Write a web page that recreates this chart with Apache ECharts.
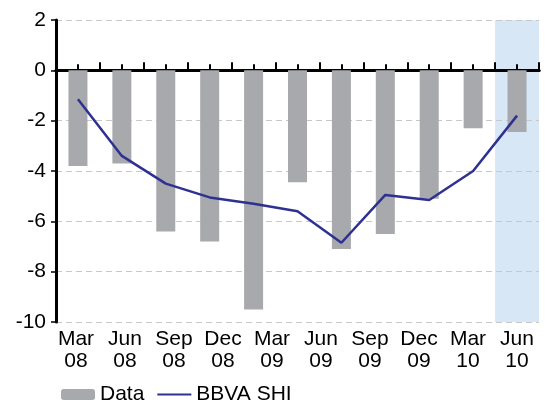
<!DOCTYPE html>
<html>
<head>
<meta charset="utf-8">
<script src="https://cdn.jsdelivr.net/npm/echarts@6/dist/echarts.min.js"></script>
<style>
  html, body { margin: 0; padding: 0; background: #fff; }
  #chart { width: 548px; height: 403px; }
</style>
</head>
<body>
<div id="chart"></div>
<script>
// quarterly periods (one bar / point each)
var periods = ['Dec 07', 'Mar 08', 'Jun 08', 'Sep 08', 'Dec 08', 'Mar 09', 'Jun 09', 'Sep 09', 'Dec 09', 'Mar 10', 'Jun 10']
// labels printed under the axis
var tickLabels = ['Mar\n08', 'Jun\n08', 'Sep\n08', 'Dec\n08', 'Mar\n09', 'Jun\n09', 'Sep\n09', 'Dec\n09', 'Mar\n10', 'Jun\n10']
var dataValues = [-3.8, -3.7, -6.4, -6.8, -9.5, -4.45, -7.1, -6.5, -5.1, -2.3, -2.45]
var shiValues = [-1.15, -3.4, -4.5, -5.05, -5.3, -5.6, -6.85, -4.95, -5.15, -4.0, -1.8]
// shaded forecast column (top and bottom of the band)
var shadeTop = [null, null, null, null, null, null, null, null, null, null, 2]
var shadeBottom = [null, null, null, null, null, null, null, null, null, null, -10]

var font = 'Liberation Sans, Arial, sans-serif'
var chart = echarts.init(document.getElementById('chart'))

var hiddenY = function (gi) {
  return {
    type: 'value', gridIndex: gi, min: -10, max: 2, interval: 2,
    axisLine: { show: false }, axisTick: { show: false },
    axisLabel: { show: false }, splitLine: { show: false }
  }
}

chart.setOption({
  animation: false,
  textStyle: { fontFamily: font },
  grid: [
    { left: 56, right: 9, top: 20, bottom: 81 },
    { left: 51.5, right: 6.5, top: 20, bottom: 81 },
    { left: 56, right: 9, top: 20, bottom: 81 }
  ],
  legend: {
    data: ['Data', { name: 'BBVA SHI', itemStyle: { opacity: 0 } }],
    left: 56,
    top: 379,
    itemWidth: 34,
    itemHeight: 11,
    itemGap: 12,
    textStyle: { color: '#000', fontSize: 21, fontFamily: font }
  },
  xAxis: [
    {
      type: 'category',
      data: periods,
      axisLine: { onZero: true, lineStyle: { color: '#000', width: 3 } },
      axisTick: { show: true, interval: 0, inside: true, length: 8, lineStyle: { color: '#000', width: 2 } },
      axisLabel: { show: false }
    },
    {
      type: 'category',
      gridIndex: 1,
      data: tickLabels,
      axisLine: { show: false },
      axisTick: { show: false },
      axisLabel: { color: '#000', fontSize: 21, lineHeight: 22, margin: 6, interval: 0, fontFamily: font }
    },
    {
      type: 'category',
      gridIndex: 2,
      data: periods,
      axisLine: { onZero: true, lineStyle: { color: '#000', width: 3 } },
      axisTick: { show: true, interval: 0, inside: true, alignWithLabel: true, length: 6, lineStyle: { color: '#000', width: 2 } },
      axisLabel: { show: false }
    }
  ],
  yAxis: [
    {
      type: 'value',
      min: -10,
      max: 2,
      interval: 2,
      axisLine: { show: true, lineStyle: { color: '#000', width: 3 } },
      axisTick: { show: true, length: 5, lineStyle: { color: '#000', width: 1.5 } },
      axisLabel: { color: '#000', fontSize: 21, margin: 10, fontFamily: font },
      splitLine: { show: true, lineStyle: { color: '#c8c8c8', type: [6, 4], width: 1 } }
    },
    hiddenY(1),
    hiddenY(2)
  ],
  series: [
    {
      name: 'shadeTop',
      type: 'bar',
      xAxisIndex: 2,
      yAxisIndex: 2,
      stack: 'shade',
      barWidth: '100%',
      z: -1,
      silent: true,
      itemStyle: { color: '#d7e7f6' },
      data: shadeTop
    },
    {
      name: 'shadeBottom',
      type: 'bar',
      xAxisIndex: 2,
      yAxisIndex: 2,
      stack: 'shade',
      barWidth: '100%',
      z: -1,
      silent: true,
      itemStyle: { color: '#d7e7f6' },
      data: shadeBottom
    },
    {
      name: 'Data',
      type: 'bar',
      barWidth: 19,
      itemStyle: { color: '#a7a9ac' },
      data: dataValues
    },
    {
      name: 'BBVA SHI',
      type: 'line',
      symbol: 'none',
      lineStyle: { color: '#2e3192', width: 2.5 },
      itemStyle: { color: '#2e3192' },
      data: shiValues
    }
  ]
})
</script>
</body>
</html>
